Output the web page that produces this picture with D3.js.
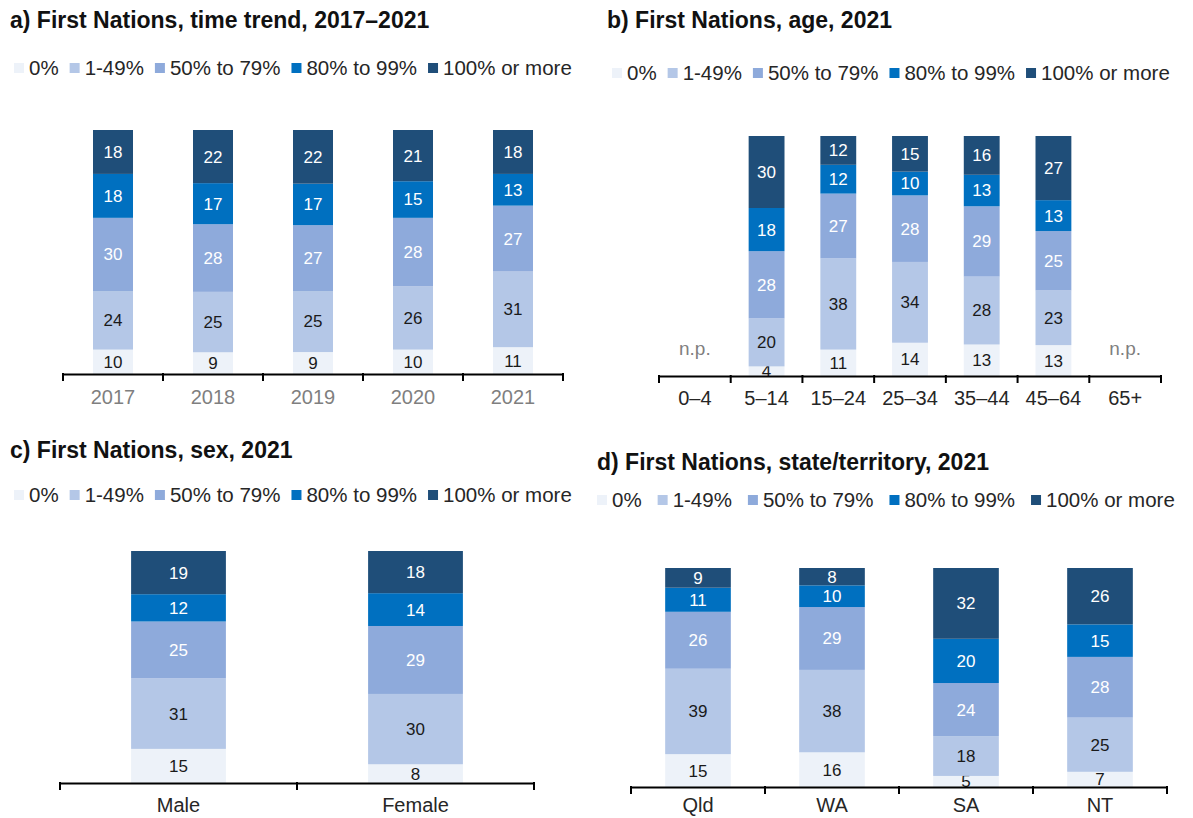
<!DOCTYPE html>
<html>
<head>
<meta charset="utf-8">
<script src="https://cdn.jsdelivr.net/npm/d3@7"></script>
<style>
  body { margin: 0; background: #fff; }
  text { font-family: "Liberation Sans", Arial, sans-serif; }
</style>
</head>
<body>
<svg id="chart" width="1193" height="818"></svg>
<script>
// legend / series keys, shared by all four panels
const seriesKeys = ['0%', '1-49%', '50% to 79%', '80% to 99%', '100% or more'];
const seriesColors = ['#edf2f9', '#b4c7e7', '#8eaadb', '#0070c0', '#1f4e79'];
const labelColors = ['#1a1a1a', '#1a1a1a', '#ffffff', '#ffffff', '#ffffff'];

// a) time trend
const trendCats = ['2017', '2018', '2019', '2020', '2021'];
const trendValues = [
  [10, 24, 30, 18, 18],
  [9, 25, 28, 17, 22],
  [9, 25, 27, 17, 22],
  [10, 26, 28, 15, 21],
  [11, 31, 27, 13, 18],
];

// b) age (null = not published)
const ageCats = ['0–4', '5–14', '15–24', '25–34', '35–44', '45–64', '65+'];
const ageValues = [
  null,
  [4, 20, 28, 18, 30],
  [11, 38, 27, 12, 12],
  [14, 34, 28, 10, 15],
  [13, 28, 29, 13, 16],
  [13, 23, 25, 13, 27],
  null,
];

// c) sex
const sexCats = ['Male', 'Female'];
const sexValues = [
  [15, 31, 25, 12, 19],
  [8, 30, 29, 14, 18],
];

// d) state / territory
const stateCats = ['Qld', 'WA', 'SA', 'NT'];
const stateValues = [
  [15, 39, 26, 11, 9],
  [16, 38, 29, 10, 8],
  [5, 18, 24, 20, 32],
  [7, 25, 28, 15, 26],
];

const svg = d3.select('#chart');

function drawPanel(cfg) {
  const g = svg.append('g');

  // title
  g.append('text')
    .attr('x', cfg.titleX)
    .attr('y', cfg.titleY)
    .style('font-size', '23px')
    .style('font-weight', 700)
    .style('fill', '#111')
    .text(cfg.title);

  // legend, laid out left to right from measured text
  let lx = cfg.legendX;
  seriesKeys.forEach((k, i) => {
    g.append('rect')
      .attr('x', lx)
      .attr('y', cfg.legendY - 5)
      .attr('width', 10)
      .attr('height', 10)
      .attr('fill', seriesColors[i]);
    const t = g.append('text')
      .attr('x', lx + 15)
      .attr('y', cfg.legendY + 7)
      .style('font-size', '20.5px')
      .style('fill', '#262626')
      .text(k);
    lx += 15 + t.node().getComputedTextLength() + cfg.legendGap;
  });

  const x = d3.scaleBand()
    .domain(cfg.cats)
    .range([cfg.x0, cfg.x1])
    .paddingInner(cfg.pad)
    .paddingOuter(cfg.pad / 2);

  const y = d3.scaleLinear().domain([0, 1]).range([cfg.yBottom, cfg.yTop]);

  const rows = cfg.cats.map((c, i) => {
    const row = { cat: c, np: cfg.values[i] === null };
    seriesKeys.forEach((k, j) => {
      row[k] = cfg.values[i] === null ? 0 : cfg.values[i][j];
    });
    return row;
  });

  const stacked = d3.stack().keys(seriesKeys).offset(d3.stackOffsetExpand)(rows);

  stacked.forEach((s, si) => {
    const segs = s.filter((d) => !d.data.np);
    g.selectAll(null)
      .data(segs)
      .enter()
      .append('rect')
      .attr('x', (d) => x(d.data.cat))
      .attr('y', (d) => y(d[1]))
      .attr('width', x.bandwidth())
      .attr('height', (d) => y(d[0]) - y(d[1]))
      .attr('fill', seriesColors[si]);

    g.selectAll(null)
      .data(segs)
      .enter()
      .append('text')
      .attr('x', (d) => x(d.data.cat) + x.bandwidth() / 2)
      .attr('y', (d) => (y(d[0]) + y(d[1])) / 2)
      .attr('dy', '0.35em')
      .attr('text-anchor', 'middle')
      .style('font-size', '17px')
      .style('fill', labelColors[si])
      .text((d) => d.data[s.key]);
  });

  // n.p. markers
  g.selectAll(null)
    .data(rows.filter((r) => r.np))
    .enter()
    .append('text')
    .attr('x', (d) => x(d.cat) + x.bandwidth() / 2)
    .attr('y', cfg.yBottom - 21)
    .attr('text-anchor', 'middle')
    .style('font-size', '19px')
    .style('fill', '#7f7f7f')
    .text('n.p.');

  // axis
  const axis = g.append('g')
    .attr('transform', `translate(0,${cfg.yBottom})`)
    .call(d3.axisBottom(x).tickSize(0).tickSizeOuter(0).tickPadding(cfg.tickPad));
  axis.select('.domain').attr('stroke', '#000').attr('stroke-width', 2);
  axis.selectAll('.tick text')
    .style('font-size', '20px')
    .style('font-family', '"Liberation Sans", Arial, sans-serif')
    .style('fill', cfg.tickColor);

  const bounds = d3.range(cfg.cats.length + 1).map((i) => cfg.x0 + i * x.step());
  g.selectAll(null)
    .data(bounds)
    .enter()
    .append('line')
    .attr('x1', (d) => d)
    .attr('x2', (d) => d)
    .attr('y1', cfg.yBottom - 1)
    .attr('y2', cfg.yBottom + 7)
    .attr('stroke', '#000')
    .attr('stroke-width', 2);
}

drawPanel({
  title: 'a) First Nations, time trend, 2017–2021', titleX: 10, titleY: 28,
  legendX: 14, legendY: 68, legendGap: 11,
  cats: trendCats, values: trendValues,
  x0: 63, x1: 563, pad: 0.6, yTop: 130, yBottom: 374, tickColor: '#7f7f7f', tickPad: 16,
});

drawPanel({
  title: 'b) First Nations, age, 2021', titleX: 607, titleY: 28,
  legendX: 612, legendY: 73, legendGap: 11,
  cats: ageCats, values: ageValues,
  x0: 659, x1: 1161, pad: 0.5, yTop: 136, yBottom: 376, tickColor: '#262626', tickPad: 15,
});

drawPanel({
  title: 'c) First Nations, sex, 2021', titleX: 10, titleY: 458,
  legendX: 14, legendY: 495, legendGap: 11,
  cats: sexCats, values: sexValues,
  x0: 60, x1: 534, pad: 0.6, yTop: 551, yBottom: 783, tickColor: '#262626', tickPad: 15,
});

drawPanel({
  title: 'd) First Nations, state/territory, 2021', titleX: 597, titleY: 470,
  legendX: 597, legendY: 500, legendGap: 16,
  cats: stateCats, values: stateValues,
  x0: 631, x1: 1167, pad: 0.51, yTop: 568, yBottom: 787, tickColor: '#262626', tickPad: 11,
});
</script>
</body>
</html>
